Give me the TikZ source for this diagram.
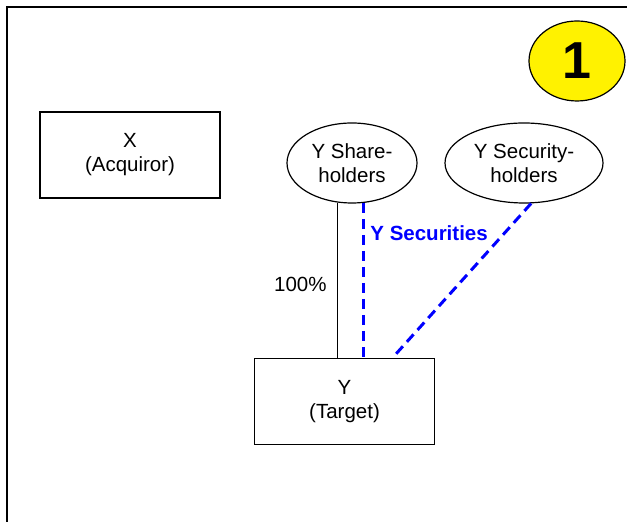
\documentclass[tikz,border=0pt]{standalone}
\usepackage{fontspec}
\setmainfont{Liberation Sans}
\usetikzlibrary{positioning, calc, shapes.geometric}

\begin{document}
\begin{tikzpicture}[x=0.5pt, y=-0.5pt,
    every node/.style={font=\fontsize{10.25}{12}\selectfont, align=center},
    entity/.style={draw, line width=0.65pt, minimum width=90pt, minimum height=43pt, inner sep=0pt},
    holder/.style={draw, ellipse, line width=0.6pt, minimum height=40pt, inner sep=0pt},
    flow/.style={draw=blue, line width=1.5pt, dash pattern=on 5pt off 3pt}]
    \useasboundingbox (0,0) rectangle (631,522);
    % frame
    \draw[line width=1.1pt] (7,522) -- (7,7) -- (627,7);
    \node[draw, ellipse, fill=yellow, line width=0.6pt, minimum width=48pt, minimum height=40pt,
          font=\fontsize{26}{28}\bfseries] (step1) at (577,61) {1};
    \node[entity] (acq) at (130,155) {X\\(Acquiror)};
    \node[entity] (tgt) at (344.5,401.5) {Y\\(Target)};
    \node[holder, minimum width=65pt] (sh) at (352,163) {Y Share-\\holders};
    \node[holder, minimum width=79pt] (sec) at (524,163) {Y Security-\\holders};
    \coordinate (tgtin) at ($(tgt.north)+(48,0)$);
    \draw[line width=0.65pt] (sh.250) -- (sh.250 |- tgt.north);
    \draw[flow] (sh.286) -- (sh.286 |- tgt.north);
    \draw[flow] (sec.280) -- (tgtin);
    \node[anchor=base west, inner sep=0pt, text=blue, font=\fontsize{10.25}{12}\bfseries] (secs) at (370,241) {Y Securities};
    \node[anchor=base east, inner sep=0pt] (pct) at (327,292) {100\%};
\end{tikzpicture}
\end{document}
